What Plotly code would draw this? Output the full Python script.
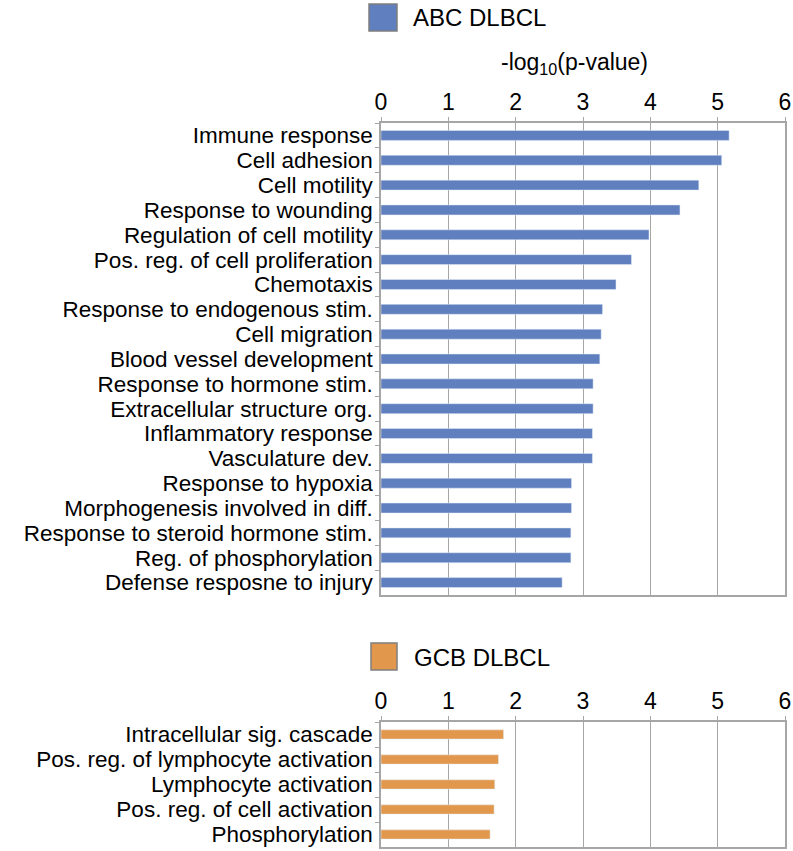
import plotly.graph_objects as go

abc_terms = ["Immune response", "Cell adhesion", "Cell motility", "Response to wounding",
             "Regulation of cell motility", "Pos. reg. of cell proliferation", "Chemotaxis",
             "Response to endogenous stim.", "Cell migration", "Blood vessel development",
             "Response to hormone stim.", "Extracellular structure org.", "Inflammatory response",
             "Vasculature dev.", "Response to hypoxia", "Morphogenesis involved in diff.",
             "Response to steroid hormone stim.", "Reg. of phosphorylation", "Defense resposne to injury"]
abc_values = [5.17, 5.06, 4.72, 4.44, 3.98, 3.72, 3.49, 3.29, 3.27, 3.25,
              3.15, 3.15, 3.14, 3.14, 2.83, 2.83, 2.82, 2.82, 2.69]

gcb_terms = ["Intracellular sig. cascade", "Pos. reg. of lymphocyte activation",
             "Lymphocyte activation", "Pos. reg. of cell activation", "Phosphorylation"]
gcb_values = [1.82, 1.745, 1.69, 1.68, 1.62]

x_ticks = [0, 1, 2, 3, 4, 5, 6]

BLUE = "#5F7FBE"
ORANGE = "#E2984C"
GRID = "#A6A6A6"
FONT = "Liberation Sans, Arial, sans-serif"

W, H = 793, 851
fig = go.Figure()
fig.add_trace(go.Bar(x=abc_values, y=abc_terms, orientation="h", marker_color=BLUE,
                     width=0.4, xaxis="x", yaxis="y", showlegend=False))
fig.add_trace(go.Bar(x=gcb_values, y=gcb_terms, orientation="h", marker_color=ORANGE,
                     width=0.37, xaxis="x2", yaxis="y2", showlegend=False))

xl, xr = 381 / W, 785 / W
top_dom = [1 - 595 / H, 1 - 123 / H]
bot_dom = [1 - 847 / H, 1 - 722 / H]

xcommon = dict(range=[0, 6], tickmode="array", tickvals=x_ticks, side="top", showgrid=True,
               gridcolor=GRID, gridwidth=1, showline=True, linecolor=GRID, linewidth=1.5,
               mirror=True, ticks="outside", ticklen=4, tickcolor=GRID, zeroline=False,
               ticklabelstandoff=-2, tickfont=dict(size=23, color="black", family=FONT),
               fixedrange=True, automargin=False)
ycommon = dict(autorange="reversed", showline=True, linecolor=GRID, linewidth=1.5, mirror=True,
               ticks="outside", ticklen=4, tickcolor=GRID, tickson="boundaries",
               tickfont=dict(size=22.5, color="black", family=FONT), ticklabelstandoff=2,
               showgrid=False, fixedrange=True, tickmode="array", automargin=False)

fig.update_layout(
    width=W, height=H, margin=dict(l=0, r=0, t=0, b=0, autoexpand=False),
    plot_bgcolor="white", paper_bgcolor="white",
    xaxis=dict(domain=[xl, xr], anchor="y", **xcommon),
    yaxis=dict(domain=top_dom, anchor="x", tickvals=abc_terms, ticktext=abc_terms, **ycommon),
    xaxis2=dict(domain=[xl, xr], anchor="y2", **xcommon),
    yaxis2=dict(domain=bot_dom, anchor="x2", tickvals=gcb_terms, ticktext=gcb_terms, **ycommon),
    font=dict(family=FONT, color="black"),
)

def px(x): return x / W
def py(y): return 1 - y / H

# legend-like swatches
fig.add_shape(type="rect", xref="paper", yref="paper", x0=px(369), x1=px(397), y0=py(31), y1=py(4),
              fillcolor=BLUE, line=dict(color="#7F7F7F", width=1.5))
fig.add_annotation(xref="paper", yref="paper", x=px(411), y=py(18), text="ABC DLBCL", showarrow=False,
                   xanchor="left", yanchor="middle", font=dict(size=24, color="black", family=FONT))
fig.add_shape(type="rect", xref="paper", yref="paper", x0=px(371), x1=px(397), y0=py(670), y1=py(643),
              fillcolor=ORANGE, line=dict(color="#7F7F7F", width=1.5))
fig.add_annotation(xref="paper", yref="paper", x=px(412), y=py(657), text="GCB DLBCL", showarrow=False,
                   xanchor="left", yanchor="middle", font=dict(size=24, color="black", family=FONT))
fig.add_annotation(xref="paper", yref="paper", x=px(574), y=py(63), text="-log<sub>10</sub>(p-value)",
                   showarrow=False, xanchor="center", yanchor="middle",
                   font=dict(size=23, color="black", family=FONT))

fig.write_html("out.html", config={"displayModeBar": False},
               post_script="document.body.style.margin='0px';document.body.style.overflow='hidden';")
